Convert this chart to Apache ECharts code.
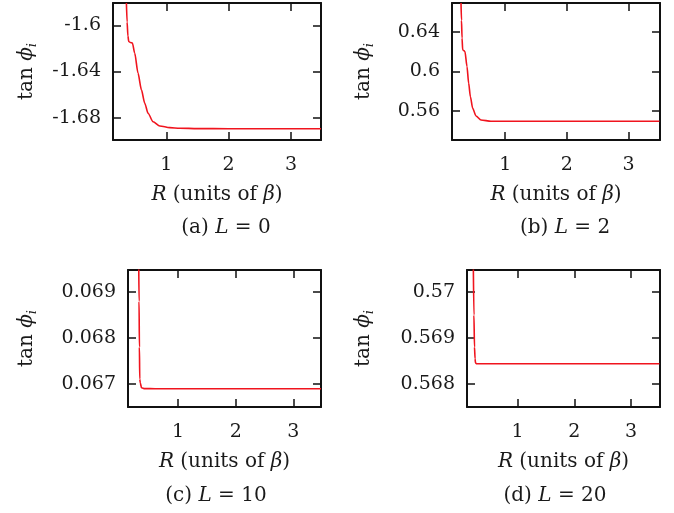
<!DOCTYPE html>
<html>
<head>
<meta charset="utf-8">
<script src="https://cdn.jsdelivr.net/npm/echarts@6/dist/echarts.min.js"></script>
<style>
html,body{margin:0;padding:0;background:#fff;}
#chart{width:674px;height:513px;}
</style>
</head>
<body>
<div id="chart"></div>
<script>
// ---- Data ----
// Panel (a) L = 0
const rA = [0.361, 0.372, 0.385, 0.398, 0.425, 0.457, 0.494, 0.547, 0.602, 0.655, 0.708, 0.788, 0.896, 1.056, 1.217, 1.5, 2.0, 2.5, 3.0, 3.48];
const tA = [-1.5805, -1.597, -1.609, -1.6139, -1.6148, -1.6153, -1.624, -1.6414, -1.6559, -1.6675, -1.6762, -1.6835, -1.6872, -1.6887, -1.6892, -1.6895, -1.6896, -1.6896, -1.6896, -1.6896];
// Panel (b) L = 2
const rB = [0.284, 0.292, 0.301, 0.311, 0.33, 0.348, 0.381, 0.408, 0.436, 0.473, 0.527, 0.608, 0.77, 1.0, 1.5, 2.0, 2.5, 3.0, 3.5];
const tB = [0.6696, 0.652, 0.634, 0.6221, 0.6212, 0.6204, 0.6051, 0.5882, 0.5746, 0.5627, 0.5549, 0.5508, 0.5495, 0.5495, 0.5495, 0.5495, 0.5495, 0.5495, 0.5495];
// Panel (c) L = 10
const rC = [0.317, 0.322, 0.328, 0.334, 0.343, 0.364, 0.42, 0.6, 1.0, 2.0, 3.0, 3.48];
const tC = [0.0695, 0.0688, 0.0678, 0.0671, 0.06702, 0.066913, 0.066893, 0.066891, 0.066891, 0.066891, 0.066891, 0.066891];
// Panel (d) L = 20
const rD = [0.222, 0.232, 0.242, 0.252, 0.26, 0.28, 0.5, 1.0, 2.0, 3.0, 3.5];
const tD = [0.5705, 0.5695, 0.5688, 0.56855, 0.56845, 0.568435, 0.568435, 0.568435, 0.568435, 0.568435, 0.568435];

// Axis ranges and tick values
const xTicks = [1, 2, 3];
const yTicksA = [-1.68, -1.64, -1.6];
const yTicksB = [0.56, 0.6, 0.64];
const yTicksC = [0.067, 0.068, 0.069];
const yTicksD = [0.568, 0.569, 0.57];
const captions = ['(a) {i|L} = 0', '(b) {i|L} = 2', '(c) {i|L} = 10', '(d) {i|L} = 20'];

const panels = [
  {r: rA, t: tA, yt: yTicksA, xmin: 0.146, xmax: 3.48, ymin: -1.6994, ymax: -1.5805,
   grid: {left: 113, top: 3, width: 208, height: 137}, yGap: 74, cap: [226, 228], fmt: v => v.toFixed(2).replace(/0$/, '')},
  {r: rB, t: tB, yt: yTicksB, xmin: 0.138, xmax: 3.51, ymin: 0.5305, ymax: 0.6696,
   grid: {left: 452, top: 3, width: 208, height: 137}, yGap: 76, cap: [565, 228], fmt: v => v.toFixed(2).replace(/0$/, '')},
  {r: rC, t: tC, yt: yTicksC, xmin: 0.13, xmax: 3.48, ymin: 0.066491, ymax: 0.069485,
   grid: {left: 128, top: 270, width: 193, height: 137}, yGap: 89, cap: [216, 496], fmt: v => v.toFixed(3)},
  {r: rD, t: tD, yt: yTicksD, xmin: 0.11, xmax: 3.51, ymin: 0.567491, ymax: 0.570485,
   grid: {left: 467, top: 270, width: 193, height: 137}, yGap: 91, cap: [555, 496], fmt: v => v.toFixed(3).replace(/0$/, '')}
];

const FONT = 'DejaVu Serif';
const TXT = '#1a1a1a';
const lineStyle = {color: '#111', width: 2};

const option = {
  animation: false,
  backgroundColor: '#fff',
  grid: [], xAxis: [], yAxis: [], series: [], graphic: []
};

panels.forEach((p, k) => {
  option.grid.push(p.grid);
  const tickCommon = {show: true, inside: true, length: 8, lineStyle: {color: '#111', width: 1.5}};
  // bottom x
  option.xAxis.push({
    gridIndex: k, type: 'value', position: 'bottom', min: p.xmin, max: p.xmax,
    axisLine: {show: true, onZero: false, lineStyle},
    axisTick: Object.assign({customValues: xTicks}, tickCommon),
    axisLabel: {customValues: xTicks, margin: 16, fontFamily: FONT, fontSize: 19, color: TXT, formatter: v => String(Math.round(v))},
    splitLine: {show: false},
    name: '{i|R} (units of {i|β})', nameLocation: 'middle', nameGap: 45,
    nameTextStyle: {fontFamily: FONT, fontSize: 20, color: TXT,
      rich: {i: {fontFamily: FONT, fontSize: 20, fontStyle: 'italic', color: TXT}}}
  });
  // top x mirror
  option.xAxis.push({
    gridIndex: k, type: 'value', position: 'top', min: p.xmin, max: p.xmax,
    axisLine: {show: true, onZero: false, lineStyle},
    axisTick: Object.assign({customValues: xTicks}, tickCommon),
    axisLabel: {show: false}, splitLine: {show: false}
  });
  // left y
  option.yAxis.push({
    gridIndex: k, type: 'value', position: 'left', min: p.ymin, max: p.ymax,
    axisLine: {show: true, onZero: false, lineStyle},
    axisTick: Object.assign({customValues: p.yt}, tickCommon),
    axisLabel: {customValues: p.yt, margin: 12, fontFamily: FONT, fontSize: 19, color: TXT, formatter: p.fmt},
    splitLine: {show: false},
    name: 'tan {i|ϕ}{s|i}', nameLocation: 'middle', nameGap: p.yGap, nameRotate: 90,
    nameTextStyle: {fontFamily: FONT, fontSize: 20, color: TXT, lineHeight: 24,
      rich: {
        i: {fontFamily: FONT, fontSize: 20, fontStyle: 'italic', color: TXT, lineHeight: 24},
        s: {fontFamily: FONT, fontSize: 13, fontStyle: 'italic', color: TXT, verticalAlign: 'bottom', lineHeight: 24}
      }}
  });
  // right y mirror
  option.yAxis.push({
    gridIndex: k, type: 'value', position: 'right', min: p.ymin, max: p.ymax,
    axisLine: {show: true, onZero: false, lineStyle},
    axisTick: Object.assign({customValues: p.yt}, tickCommon),
    axisLabel: {show: false}, splitLine: {show: false}
  });
  option.series.push({
    type: 'line', xAxisIndex: 2 * k, yAxisIndex: 2 * k, showSymbol: false, symbol: 'none',
    clip: true, smooth: 0.25, smoothMonotone: 'x',
    lineStyle: {color: '#f0141e', width: 1.6},
    data: p.r.map((x, i) => [x, p.t[i]])
  });
  option.graphic.push({
    type: 'text', x: p.cap[0], y: p.cap[1],
    style: {text: captions[k], align: 'center', verticalAlign: 'middle', fontFamily: FONT, fontSize: 20, fill: TXT,
      rich: {i: {fontFamily: FONT, fontSize: 20, fontStyle: 'italic', fill: TXT, color: TXT}}}
  });
});

const chart = echarts.init(document.getElementById('chart'), null, {renderer: 'canvas'});
chart.setOption(option);
</script>
</body>
</html>
